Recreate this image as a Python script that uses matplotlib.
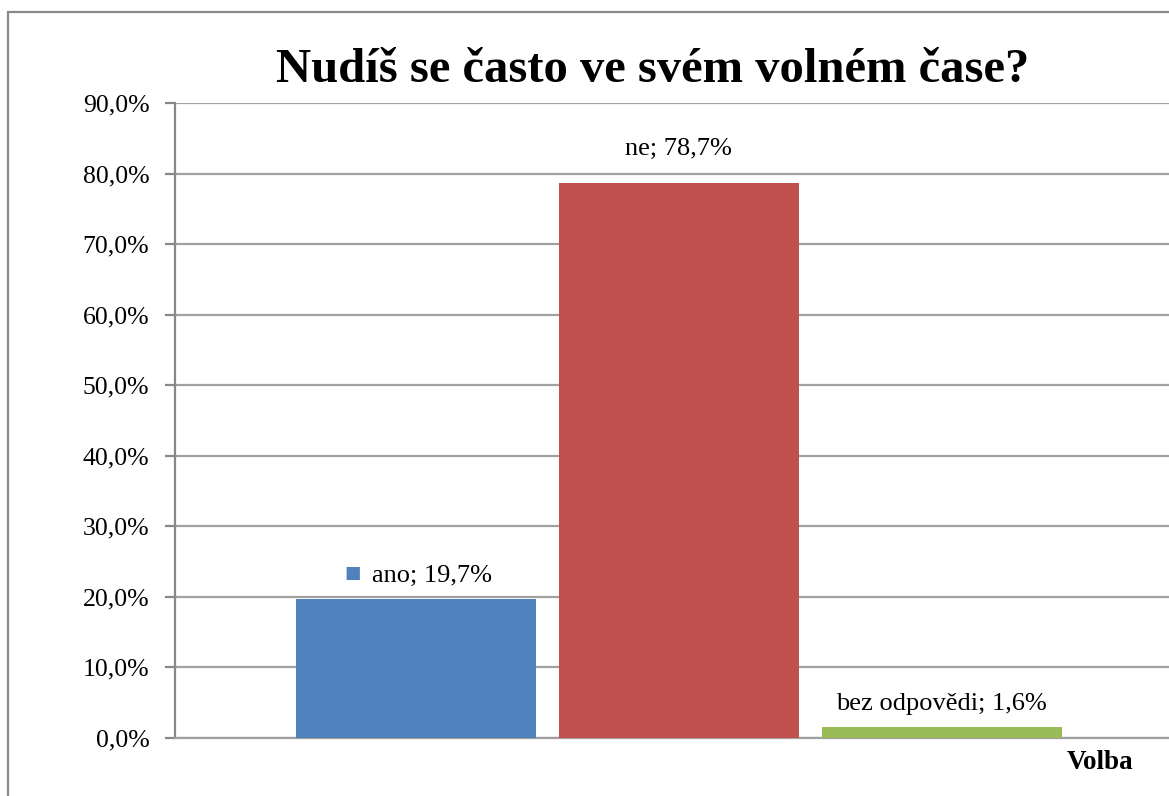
import numpy as np
import matplotlib.pyplot as plt
from matplotlib.patches import Rectangle

plt.rcParams['font.family'] = ['Liberation Serif', 'DejaVu Serif']

# data
kategorie = ['ano', 'ne', 'bez odpovědi']
hodnoty = [19.7, 78.7, 1.6]
barvy = ['#4F81BD', '#C0504D', '#9BBB59']
yticks = [0, 10, 20, 30, 40, 50, 60, 70, 80, 90]

fig = plt.figure(figsize=(11.69, 7.96), dpi=100)
ax = fig.add_axes([0.1497, 0.0729, 0.8606, 0.7977])

x = np.arange(len(kategorie))
ax.bar(x, hodnoty, width=0.913, color=barvy, zorder=3)

ax.set_xlim(-0.916, 2.91)
ax.set_ylim(0, 90)
ax.set_yticks(yticks)
ax.set_yticklabels([f'{v:.1f}%'.replace('.', ',') for v in yticks], fontsize=18.5)
ax.set_xticks([])
ax.yaxis.grid(True, color='#A0A0A0', linewidth=1.6, zorder=0)
ax.tick_params(axis='y', length=7, width=1.6, color='#888888', pad=11.5)

for s in ['top', 'right']:
    ax.spines[s].set_visible(False)
ax.spines['left'].set_color('#888888')
ax.spines['left'].set_linewidth(1.6)
ax.spines['bottom'].set_color('#A0A0A0')
ax.spines['bottom'].set_linewidth(1.6)

# popisky dat
offsety = [12, 20, 12]
for i, (k, v) in enumerate(zip(kategorie, hodnoty)):
    txt = f'{k}; {v:.1f}%'.replace('.', ',')
    if i == 0:
        ax.annotate(txt, (x[i] - 0.167, v), xytext=(0, offsety[i]), textcoords='offset points',
                    ha='left', va='baseline', fontsize=19)
        ax.annotate('\u25A0', (x[i] - 0.241, v), xytext=(0, 19), textcoords='offset points',
                    ha='center', va='center', fontsize=12.5, color=barvy[0],
                    family=['DejaVu Sans'])
    else:
        ax.annotate(txt, (x[i], v), xytext=(0, offsety[i]), textcoords='offset points',
                    ha='center', va='baseline', fontsize=19)

fig.text(0.558, 0.912, 'Nudíš se často ve svém volném čase?', ha='center', va='center',
         fontsize=35, fontweight='bold')
fig.text(0.941, 0.0415, 'Volba', ha='center', va='center', fontsize=19.5, fontweight='bold')

# rámeček grafu
fig.patches.append(Rectangle((8 / 1169, -0.05), 1.2, 1 - 12 / 796 + 0.05,
                             transform=fig.transFigure, fill=False,
                             edgecolor='#888888', linewidth=1.6))

fig.savefig('out.png', dpi=100)
